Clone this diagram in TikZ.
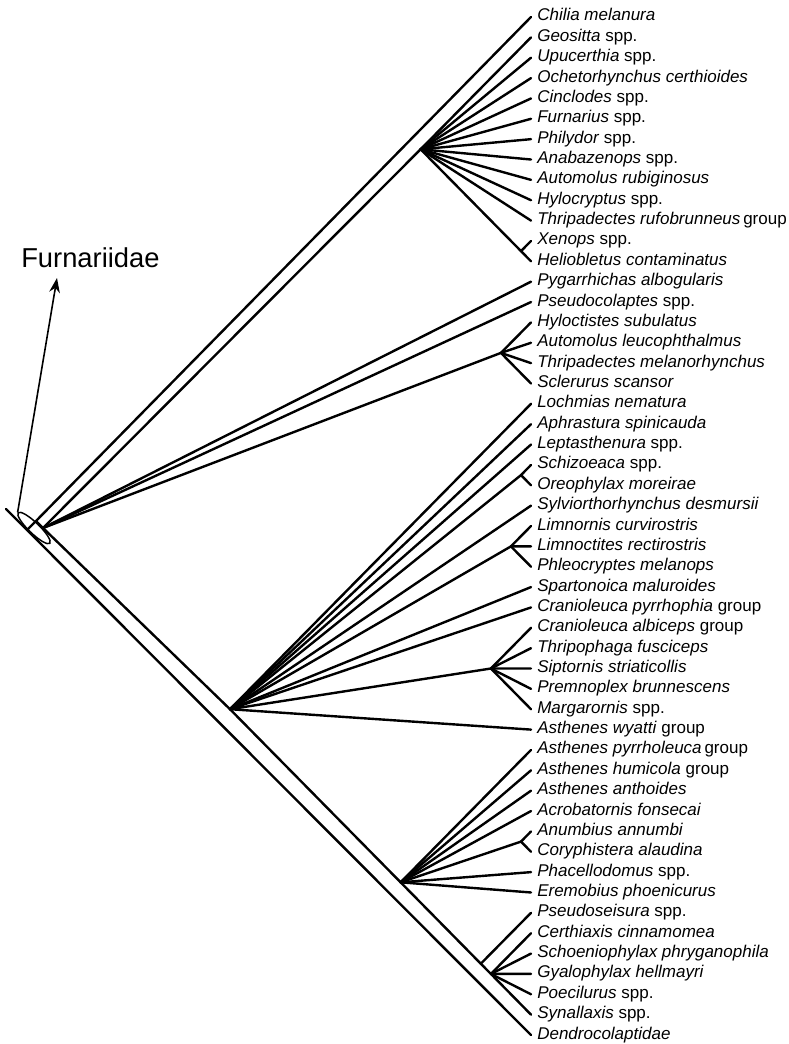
\documentclass[tikz,border=0pt]{standalone}
\usepackage{fontspec}
\setmainfont{Liberation Sans}
\usetikzlibrary{shapes.geometric,arrows.meta}
\begin{document}
\begin{tikzpicture}[x=0.75pt,y=-0.75pt,
  branch/.style={line width=1.8pt,line cap=round,line join=round},
  leaf/.style={anchor=base west,inner sep=0pt,font=\fontsize{12.75}{15}\selectfont},
  biglab/.style={anchor=base west,inner sep=0pt,font=\fontsize{20.5}{24}\selectfont}]
\useasboundingbox (0,0) rectangle (788,1044);
% leaves
\foreach \lab [count=\i] in {
{\textit{Chilia melanura}},
{\textit{Geositta} spp.},
{\textit{Upucerthia} spp.},
{\textit{Ochetorhynchus certhioides}},
{\textit{Cinclodes} spp.},
{\textit{Furnarius} spp.},
{\textit{Philydor} spp.},
{\textit{Anabazenops} spp.},
{\textit{Automolus rubiginosus}},
{\textit{Hylocryptus} spp.},
{\textit{Thripadectes rufobrunneus}\,group},
{\textit{Xenops} spp.},
{\textit{Heliobletus contaminatus}},
{\textit{Pygarrhichas albogularis}},
{\textit{Pseudocolaptes} spp.},
{\textit{Hyloctistes subulatus}},
{\textit{Automolus leucophthalmus}},
{\textit{Thripadectes melanorhynchus}},
{\textit{Sclerurus scansor}},
{\textit{Lochmias nematura}},
{\textit{Aphrastura spinicauda}},
{\textit{Leptasthenura} spp.},
{\textit{Schizoeaca} spp.},
{\textit{Oreophylax moreirae}},
{\textit{Sylviorthorhynchus desmursii}},
{\textit{Limnornis curvirostris}},
{\textit{Limnoctites rectirostris}},
{\textit{Phleocryptes melanops}},
{\textit{Spartonoica maluroides}},
{\textit{Cranioleuca pyrrhophia} group},
{\textit{Cranioleuca albiceps} group},
{\textit{Thripophaga fusciceps}},
{\textit{Siptornis striaticollis}},
{\textit{Premnoplex brunnescens}},
{\textit{Margarornis} spp.},
{\textit{Asthenes wyatti} group},
{\textit{Asthenes pyrrholeuca}\,group},
{\textit{Asthenes humicola} group},
{\textit{Asthenes anthoides}},
{\textit{Acrobatornis fonsecai}},
{\textit{Anumbius annumbi}},
{\textit{Coryphistera alaudina}},
{\textit{Phacellodomus} spp.},
{\textit{Eremobius phoenicurus}},
{\textit{Pseudoseisura} spp.},
{\textit{Certhiaxis cinnamomea}},
{\textit{Schoeniophylax phryganophila}},
{\textit{Gyalophylax hellmayri}},
{\textit{Poecilurus} spp.},
{\textit{Synallaxis} spp.},
{\textit{Dendrocolaptidae}}}
{
  \coordinate (e\i) at (531,{17+(\i-1)*20.36});
  \node[leaf] (t\i) at (537,{17+(\i-1)*20.36+4}) {\lab};
}
% internal nodes
\coordinate (S0) at (6,509);
\coordinate (R) at (27,530);
\coordinate (F) at (36,521);
\coordinate (F2) at (43,528);
\coordinate (G) at (420.6,149.3);
\coordinate (X) at (521,251.1);
\coordinate (S) at (500.9,352.9);
\coordinate (Nsyn) at (230,709.2);
\coordinate (Schiz) at (521,475.1);
\coordinate (Limn) at (510.9,546.4);
\coordinate (Thrip) at (490.9,668.5);
\coordinate (Nphac) at (400.6,882.3);
\coordinate (Anumb) at (521,841.6);
\coordinate (Npse) at (480.8,963.7);
\coordinate (Nsynal) at (490.9,973.9);
% branches
\draw[branch] (S0) -- (R) -- (e51);
\draw[branch] (R) -- (F) -- (e1);
\draw[branch] (F) -- (F2) -- (Nsyn) -- (Nphac) -- (Npse) -- (Nsynal) -- (e50);
\draw[branch] (F2) -- (G) -- (e2);
\foreach \j in {3,...,11} \draw[branch] (G) -- (e\j);
\draw[branch] (G) -- (X) -- (e13);
\draw[branch] (X) -- (e12);
\draw[branch] (F2) -- (e14);
\draw[branch] (F2) -- (e15);
\draw[branch] (F2) -- (S);
\foreach \j in {16,...,19} \draw[branch] (S) -- (e\j);
\foreach \j in {20,21,22,25,29,30,36} \draw[branch] (Nsyn) -- (e\j);
\draw[branch] (Nsyn) -- (Schiz);
\draw[branch] (Nsyn) -- (Limn);
\draw[branch] (Nsyn) -- (Thrip);
\foreach \j in {23,24} \draw[branch] (Schiz) -- (e\j);
\foreach \j in {26,27,28} \draw[branch] (Limn) -- (e\j);
\foreach \j in {31,...,35} \draw[branch] (Thrip) -- (e\j);
\foreach \j in {37,38,39,40,43,44} \draw[branch] (Nphac) -- (e\j);
\draw[branch] (Nphac) -- (Anumb);
\foreach \j in {41,42} \draw[branch] (Anumb) -- (e\j);
\draw[branch] (Npse) -- (e45);
\foreach \j in {46,...,49} \draw[branch] (Nsynal) -- (e\j);
% Furnariidae marker
\node[ellipse,draw,line width=1.1pt,minimum width=33pt,minimum height=8pt,inner sep=0pt,rotate=-44] (furn) at (34,528) {};
\node[biglab] (flab) at (21,268) {Furnariidae};
\coordinate (tip) at (57,278);
\draw[line width=1.2pt,-{Stealth[length=11pt,width=8pt]}] (furn.west) -- (tip);
\end{tikzpicture}
\end{document}
